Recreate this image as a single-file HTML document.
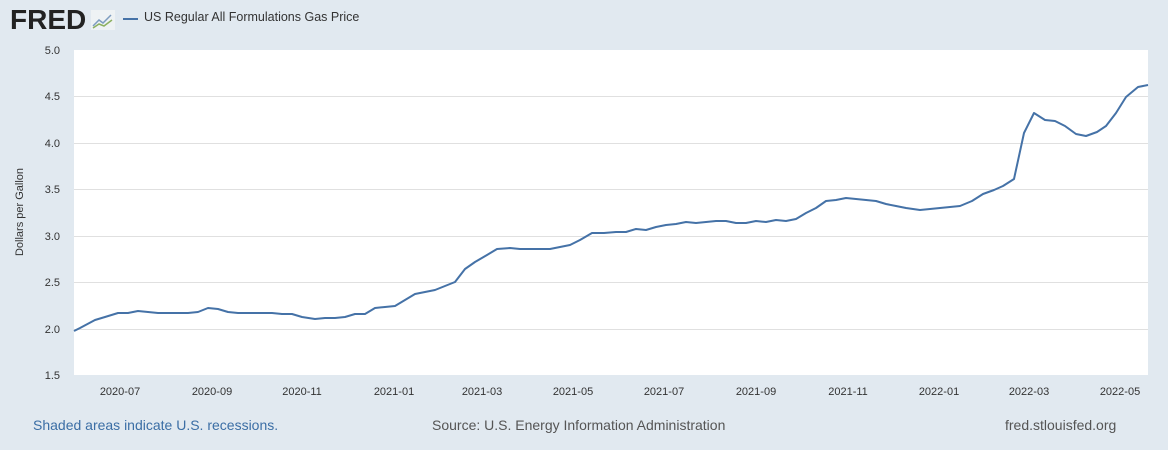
<!DOCTYPE html><html><head><style>
body{margin:0;width:1168px;height:450px;background:#e1e9f0;font-family:"Liberation Sans",sans-serif;overflow:hidden;position:relative}
</style></head><body>
<div style="position:absolute;left:10px;top:4px;font-size:28px;font-weight:bold;color:#222;letter-spacing:0px">FRED</div>
<svg style="position:absolute;left:91px;top:10px" width="24" height="20"><rect width="24" height="20" fill="#eef2f4"/><polyline points="2,16 8,10 12,13 20,5" fill="none" stroke="#7d9cbf" stroke-width="1.5"/><polyline points="2,18 8,14 13,16 21,10" fill="none" stroke="#8cb060" stroke-width="1.5"/></svg>
<div style="position:absolute;left:123px;top:18px;width:15px;height:2px;background:#4572a7"></div>
<div style="position:absolute;left:144px;top:10px;font-size:12.5px;color:#333">US Regular All Formulations Gas Price</div>
<svg style="position:absolute;left:0;top:0" width="1168" height="450">
<rect x="74" y="50" width="1074" height="325" fill="#fff"/>
<g stroke="#e0e0e0" stroke-width="1">
<line x1="74" x2="1148" y1="96.5" y2="96.5"/><line x1="74" x2="1148" y1="143.5" y2="143.5"/><line x1="74" x2="1148" y1="189.5" y2="189.5"/><line x1="74" x2="1148" y1="236.5" y2="236.5"/><line x1="74" x2="1148" y1="282.5" y2="282.5"/><line x1="74" x2="1148" y1="329.5" y2="329.5"/>
</g>
<g font-size="11" fill="#333" text-anchor="end" font-family="Liberation Sans">
<text x="60" y="54">5.0</text><text x="60" y="100">4.5</text><text x="60" y="147">4.0</text><text x="60" y="193">3.5</text><text x="60" y="240">3.0</text><text x="60" y="286">2.5</text><text x="60" y="333">2.0</text><text x="60" y="379">1.5</text>
</g>
<g font-size="11" fill="#333" text-anchor="middle" font-family="Liberation Sans">
<text x="120" y="395">2020-07</text><text x="212" y="395">2020-09</text><text x="302" y="395">2020-11</text><text x="394" y="395">2021-01</text><text x="482" y="395">2021-03</text><text x="573" y="395">2021-05</text><text x="664" y="395">2021-07</text><text x="756" y="395">2021-09</text><text x="848" y="395">2021-11</text><text x="939" y="395">2022-01</text><text x="1029" y="395">2022-03</text><text x="1120" y="395">2022-05</text>
</g>
<text x="23" y="212" font-size="11" fill="#333" text-anchor="middle" transform="rotate(-90 23 212)" font-family="Liberation Sans">Dollars per Gallon</text>
<polyline fill="none" stroke="#4572a7" stroke-width="2" stroke-linejoin="round" points="74,331 80,328 95,320 105,317 118,313 128,313 138,311 148,312 158,313 168,313 178,313 188,313 198,312 208,308 218,309 228,312 238,313 248,313 262,313 272,313 282,314 292,314 302,317 315,319 325,318 335,318 345,317 355,314 365,314 375,308 385,307 395,306 405,300 415,294 425,292 435,290 445,286 455,282 465,269 475,262 487,255 497,249 510,248 520,249 530,249 540,249 550,249 560,247 570,245 580,240 592,233 604,233 616,232 626,232 636,229 646,230 656,227 666,225 676,224 686,222 696,223 706,222 716,221 726,221 736,223 746,223 756,221 766,222 776,220 786,221 796,219 806,213 816,208 826,201 836,200 846,198 856,199 866,200 876,201 886,204 896,206 906,208 920,210 930,209 940,208 950,207 960,206 972,201 983,194 994,190 1003,186 1014,179 1024,133 1034,113 1045,120 1055,121 1065,126 1076,134 1086,136 1097,132 1106,126 1116,113 1126,97 1138,87 1148,85"/>
</svg>
<div style="position:absolute;left:33px;top:417px;font-size:14px;color:#3b6ea5">Shaded areas indicate U.S. recessions.</div>
<div style="position:absolute;left:432px;top:417px;font-size:14px;color:#555">Source: U.S. Energy Information Administration</div>
<div style="position:absolute;left:1005px;top:417px;font-size:14px;color:#555">fred.stlouisfed.org</div>
</body></html>
